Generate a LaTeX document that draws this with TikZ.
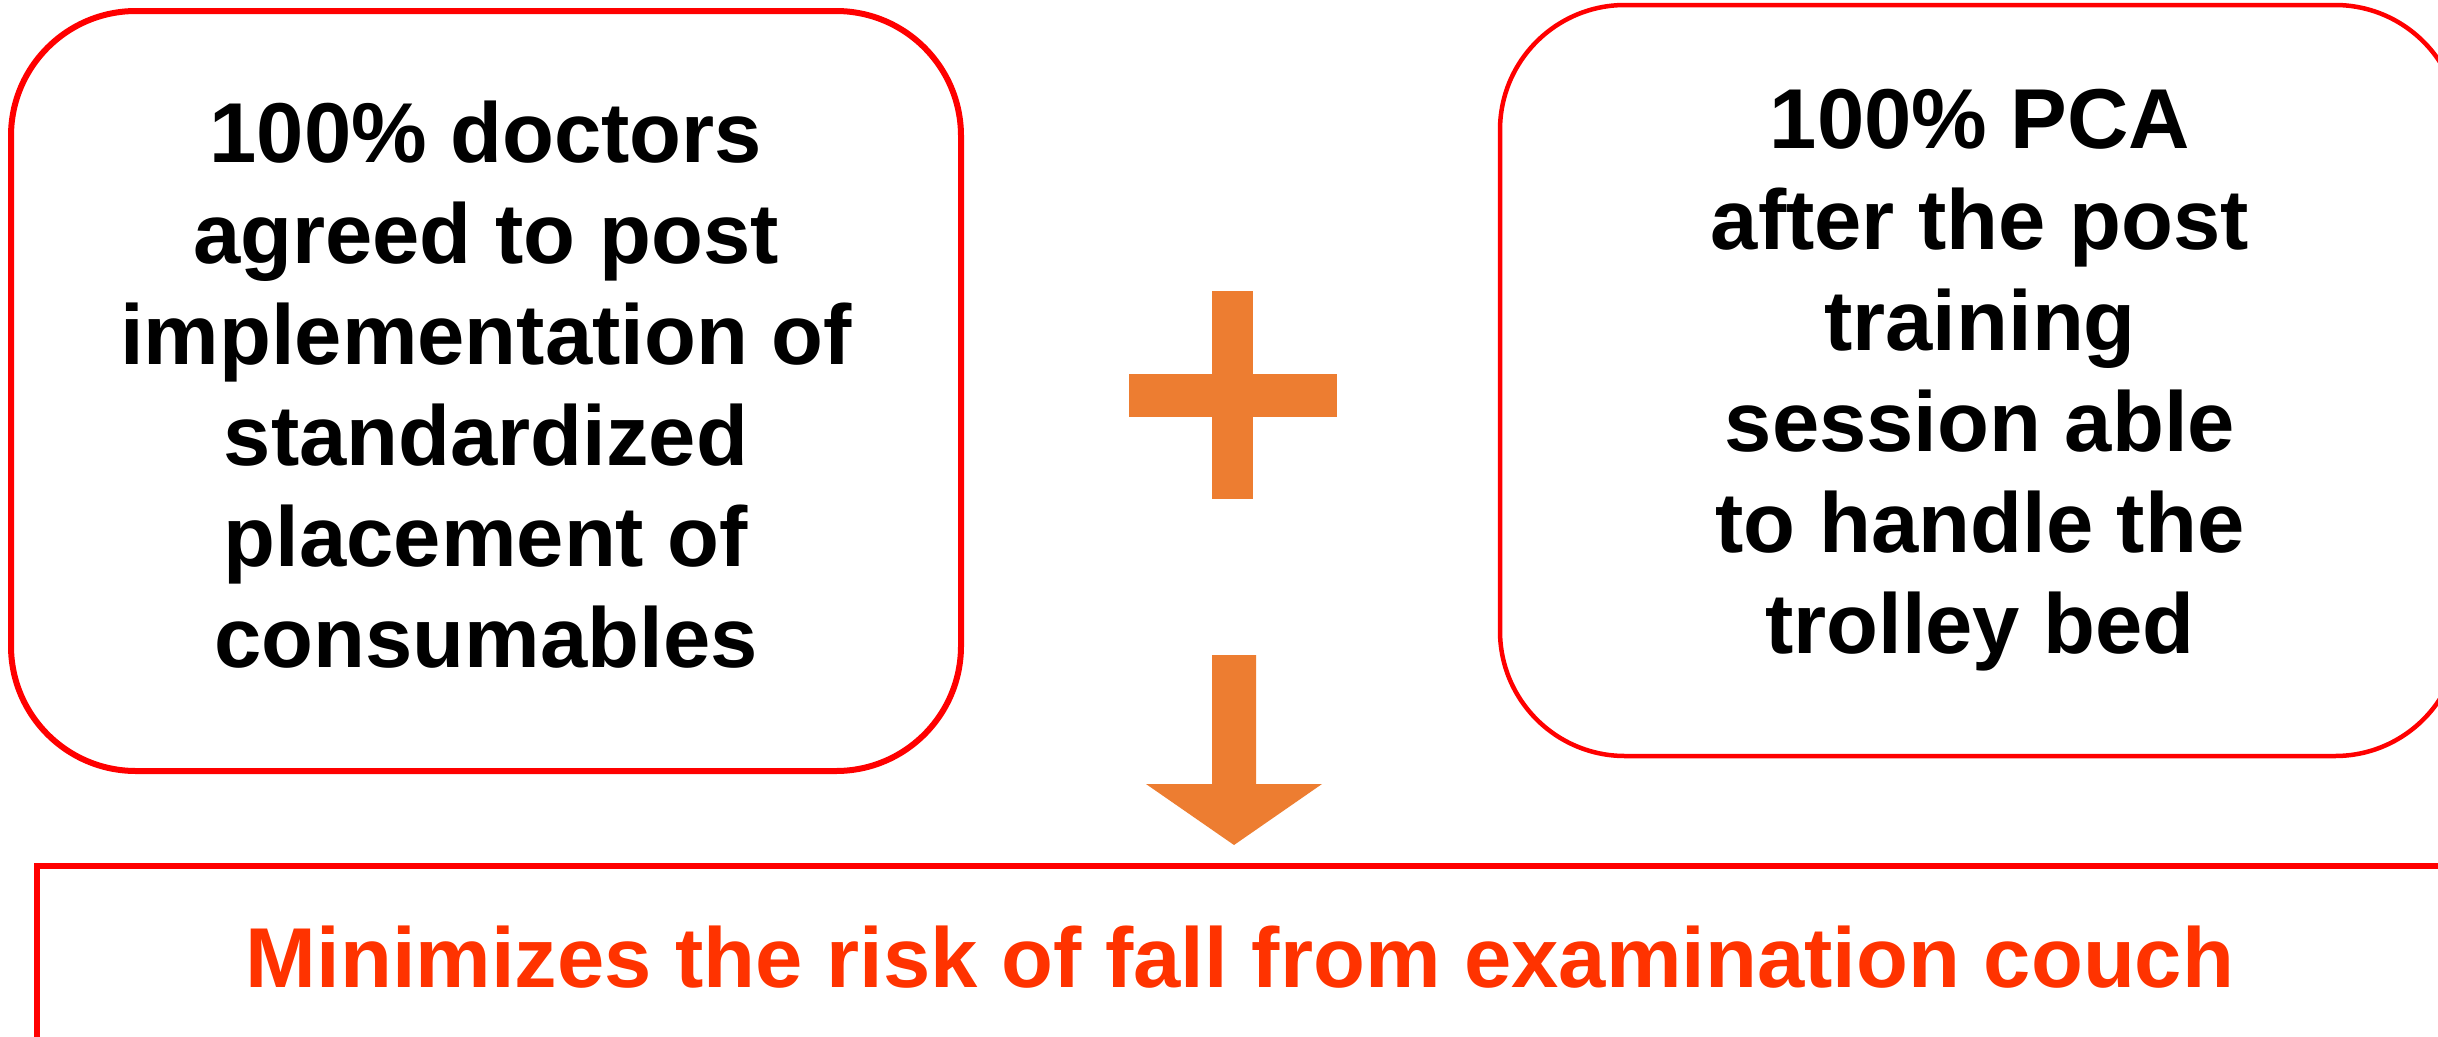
\documentclass[tikz,border=0pt]{standalone}
\usepackage{fontspec}
\setmainfont{Liberation Sans}
\definecolor{boxred}{HTML}{FF0000}
\definecolor{accentorange}{HTML}{ED7D31}
\definecolor{resulttext}{HTML}{FF3300}
\begin{document}
\begin{tikzpicture}[x=1pt,y=-1pt,
  txt/.style={font=\fontsize{85}{101}\selectfont\bfseries, align=center, text=black},
  roundbox/.style={draw=boxred, rounded corners=125pt, fill=white, inner sep=0pt},
  resultbox/.style={draw=boxred, fill=white, inner sep=0pt, line width=6pt},
  shapefill/.style={fill=accentorange}]
\path[use as bounding box, clip] (0,0) rectangle (2438,1036);
\fill[white] (0,0) rectangle (2438,1036);

\node[roundbox, txt, line width=6pt, minimum width=950pt, minimum height=760pt] (left) at (486,391)
  {100\% doctors\\agreed to post\\implementation of\\standardized\\placement of\\consumables\rule[-14pt]{0pt}{0pt}};

\node[roundbox, txt, line width=4.5pt, minimum width=960pt, minimum height=751pt] (right) at (1980,380.5)
  {100\% PCA\\after the post\\training\\session able\\to handle the\\trolley bed};

\node[resultbox, txt, text=resulttext, minimum width=2406pt, minimum height=182pt] (result) at (1240,957)
  {Minimizes the risk of fall from examination couch};

% plus sign
\coordinate (plus) at (1232.5,395);
\fill[shapefill] ([shift={(-20.5,-104)}]plus) rectangle ([shift={(20.5,104)}]plus);
\fill[shapefill] ([shift={(-104,-21.5)}]plus) rectangle ([shift={(104,21.5)}]plus);

% block arrow
\coordinate (arrowtop) at (1234,655);
\coordinate (arrowtip) at (1234,845);
\fill[shapefill] ([xshift=-22pt]arrowtop) -- ([xshift=22pt]arrowtop) -- (1256,784) -- (1322,784)
  -- (arrowtip) -- (1146,784) -- (1212,784) -- cycle;
\end{tikzpicture}
\end{document}
